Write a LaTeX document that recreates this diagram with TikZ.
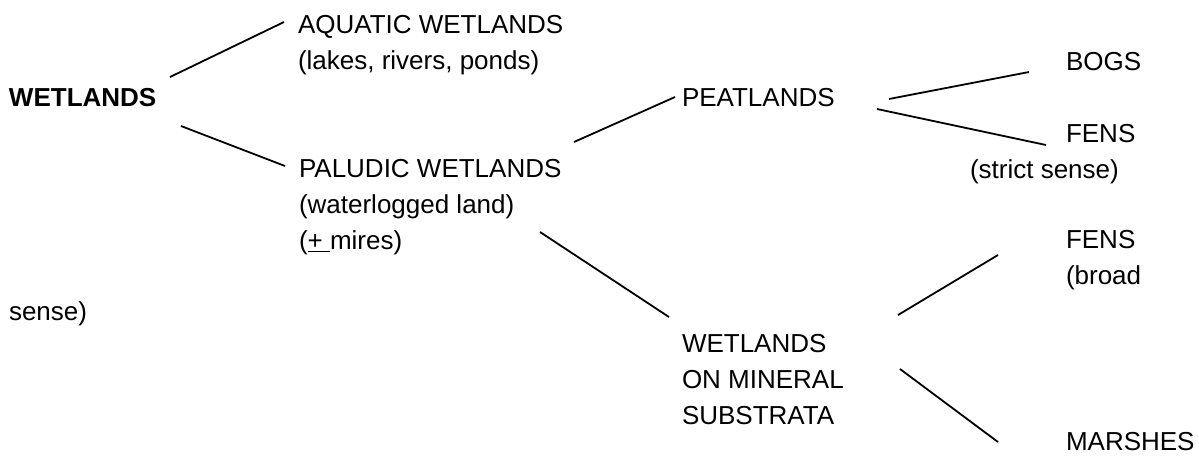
\documentclass[tikz,border=0pt]{standalone}
\usepackage{fontspec}
\setmainfont{Liberation Sans}
\begin{document}
\begin{tikzpicture}[x=0.5pt,y=-0.5pt,
  lbl/.style={anchor=base west,inner sep=0pt,outer sep=0pt,
    font=\fontsize{13}{18}\selectfont},
  link/.style={line width=0.9pt,draw=black}]
\useasboundingbox (0,0) rectangle (1199,463);

% categories
\node[lbl,font=\fontsize{13}{18}\selectfont\bfseries] (wet) at (9,106) {WETLANDS};
\node[lbl] (aqua) at (298,33)
  {\vtop{\hbox{AQUATIC WETLANDS}\hbox{(lakes, rivers, ponds)}}};
\node[lbl] (palu) at (299,177)
  {\vtop{\hbox{PALUDIC WETLANDS}\hbox{(waterlogged land)}\hbox{(\underline{+\ }mires)}}};
\node[lbl] (peat) at (682,106) {PEATLANDS};
\node[lbl] (miner) at (682,352)
  {\vtop{\hbox{WETLANDS}\hbox{ON MINERAL}\hbox{SUBSTRATA}}};
\node[lbl] (bogs) at (1066,70) {BOGS};
\node[lbl] (fenss) at (1066,142)
  {\vtop{\hbox{FENS}\hbox{\kern-48pt(strict sense)}}};
\node[lbl] (fensb) at (1066,248)
  {\vtop{\hbox{FENS}\hbox{(broad}\hbox{\kern-528.5pt sense)}}};
\node[lbl] (marsh) at (1066,450) {MARSHES};

% branches
\draw[link] ([shift={(161,-29)}]wet.base west) -- ([shift={(-14,-11)}]aqua.base west);
\draw[link] ([shift={(172,20)}]wet.base west) -- ([shift={(-14,-11)}]palu.base west);
\draw[link] ([shift={(275,-35)}]palu.base west) -- ([shift={(-7,-9)}]peat.base west);
\draw[link] ([shift={(241,55)}]palu.base west) -- ([shift={(-13,-35)}]miner.base west);
\draw[link] ([shift={(207,-7)}]peat.base west) -- ([shift={(-37,2)}]bogs.base west);
\draw[link] ([shift={(195,3)}]peat.base west) -- ([shift={(-20,3)}]fenss.base west);
\draw[link] ([shift={(216,-37)}]miner.base west) -- ([shift={(-68,7)}]fensb.base west);
\draw[link] ([shift={(218,17)}]miner.base west) -- ([shift={(-68,-8)}]marsh.base west);
\end{tikzpicture}
\end{document}
